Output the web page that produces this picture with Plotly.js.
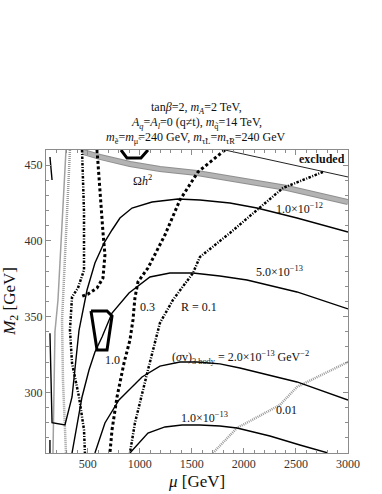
<!DOCTYPE html>
<html>
<head>
<meta charset="utf-8">
<script src="https://cdn.plot.ly/plotly-3.0.1.min.js"></script>
<style>
html, body { margin: 0; padding: 0; background: #fff; }
#plot { width: 382px; height: 494px; }
</style>
</head>
<body>
<div id="plot"></div>
<script>
// (sigma v)_3body contours, mu [GeV] vs M2 [GeV]
var sv1e12Mu = [138, 158, 282, 350, 417, 494, 570, 657, 734, 810, 926, 1118, 1367, 1578, 1866, 2126, 2510, 3000];
var sv1e12M2 = [339, 280, 278.5, 297, 341, 367.6, 385.4, 398.6, 407.2, 415.1, 421.7, 425.7, 427.7, 427, 425, 421.7, 415.1, 405.9];
var sv5e13Mu = [350, 398, 446, 513, 570, 638, 734, 897, 1098, 1290, 1511, 1770, 2030, 2510, 3000];
var sv5e13M2 = [260, 279.8, 297, 314.8, 326.7, 336.6, 352.4, 365.6, 376.2, 378.8, 378.8, 376.8, 374.2, 366.3, 355.1];
var sv2e13Mu = [570, 666, 801, 1022, 1194, 1386, 1550, 1770, 1962, 2250, 2510, 3000];
var sv2e13M2 = [260, 279.8, 295, 310.2, 317.4, 320.1, 320.1, 318.8, 316.1, 311.5, 306.9, 295];
var sv1e13Mu = [906, 1079, 1242, 1406, 1578, 1770, 1934, 2250, 2538, 2807];
var sv1e13M2 = [260, 273.2, 277.2, 278.5, 278.5, 277.8, 276.5, 271.2, 265.3, 260];

// small contour pieces at the left edge
var stubTopMu = [138, 158];
var stubTopM2 = [455.4, 440.2];
var stubLowMu = [138, 138];
var stubLowM2 = [268.6, 260];

// relic density band
var omegaMu = [455, 618, 906, 1194, 1550, 1962, 2414, 3000];
var omegaM2 = [458.7, 455.4, 450.8, 447.5, 444.8, 440.2, 434.9, 425.7];

// excluded boundary
var exclMu = [1818, 3000];
var exclM2 = [460, 442.2];

// R = 1.0 islands
var islandTopMu = [820, 878, 1012, 1079];
var islandTopM2 = [460, 454.7, 454.7, 460];
var islandMidMu = [532, 686, 734, 686, 590, 532];
var islandMidM2 = [353.7, 353.7, 350.4, 328, 328, 353.7];

// R contours
var r03Mu = [1818, 1559, 1386, 1242, 1079, 983, 954, 935, 906, 849, 782, 734, 714];
var r03M2 = [460, 445.5, 427, 403.9, 382.1, 372.9, 362.3, 347.8, 334.6, 319.4, 297, 275.2, 260];
var r01Mu = [2759, 2375, 2126, 1866, 1578, 1511, 1319, 1194, 1079, 954, 906];
var r01M2 = [445.5, 434.9, 420.4, 405.2, 389.4, 378.8, 361, 345.8, 314.8, 279.8, 260];
var rLeftMu = [446, 465, 465, 407, 350, 330, 350, 417, 465, 474];
var rLeftM2 = [460, 419.1, 380.8, 368.9, 363, 341.2, 319.4, 297, 275.2, 260];
var rLoopMu = [590, 618, 647, 666, 647, 590, 503, 426];
var rLoopM2 = [460, 430.3, 405.9, 390.7, 375.5, 368.9, 364.9, 363];
var r001RightMu = [1703, 1934, 2346, 2510, 3000];
var r001RightM2 = [260, 276.5, 291.7, 303.6, 320.1];
var r001LeftMu = [330, 254, 263, 292];
var r001LeftM2 = [460, 347.8, 308, 260];

// gray boundary line at small mu
var edgeMu = [292, 215, 186, 167];
var edgeM2 = [460, 361, 340, 260];

// header lines above the frame
var headerLines = [
	'tan<i>β</i>=2, <i>m<sub>A</sub></i>=2 TeV,',
	'<i>A<sub>q</sub></i>=<i>A<sub>l</sub></i>=0 (q≠t), <i>m</i><sub>q̃</sub>=14 TeV,',
	'<i>m</i><sub>ẽ</sub>=<i>m</i><sub>μ̃</sub>=240 GeV, <i>m</i><sub>τ̃L</sub>=<i>m</i><sub>τ̃R</sub>=240 GeV'
];

function line(x, y, color, width, dash) {
	return {
		x: x, y: y, type: 'scatter', mode: 'lines',
		line: { color: color, width: width, dash: dash || 'solid' },
		hoverinfo: 'skip', showlegend: false
	};
}

var traces = [
	line(omegaMu, omegaM2, '#8f8f8f', 6),
	line(omegaMu, omegaM2, '#b3b3b3', 4),
	line(edgeMu, edgeM2, '#a0a0a0', 1.5),
	line(r001LeftMu, r001LeftM2, '#9a9a9a', 2.5, '1px,1px'),
	line(r001RightMu, r001RightM2, '#9a9a9a', 2.5, '1px,1px'),
	line(exclMu, exclM2, '#222', 1),
	line(sv1e12Mu, sv1e12M2, '#000', 1.4),
	line(stubTopMu, stubTopM2, '#000', 1.4),
	line(stubLowMu, stubLowM2, '#000', 1.4),
	line(sv5e13Mu, sv5e13M2, '#000', 1.4),
	line(sv2e13Mu, sv2e13M2, '#000', 1.4),
	line(sv1e13Mu, sv1e13M2, '#000', 1.4),
	line(islandTopMu, islandTopM2, '#000', 3),
	line(islandMidMu, islandMidM2, '#000', 3),
	line(r03Mu, r03M2, '#000', 3, '3px,2.5px'),
	line(rLoopMu, rLoopM2, '#000', 3, '3px,2.5px'),
	line(r01Mu, r01M2, '#000', 2.5, '2.5px,1.5px,1px,1.5px'),
	line(rLeftMu, rLeftM2, '#000', 2.5, '2.5px,1.5px,1px,1.5px')
];

var serif = 'Liberation Serif, Times New Roman, serif';

function label(x, y, text, size) {
	return { x: x, y: y, xref: 'x', yref: 'y', text: text, showarrow: false,
		font: { family: serif, size: size || 12, color: '#111' } };
}

var annotations = [
	label(2750, 454.1, '<b>excluded</b>'),
	label(1031, 440.2, 'Ω<i>h</i><sup>2</sup>'),
	label(2538, 421.7, '1.0×10<sup>−12</sup>'),
	label(2346, 379.5, '5.0×10<sup>−13</sup>'),
	label(1972, 323, '(<i>σ</i>v)<sub>3 body</sub> = 2.0×10<sup>−13</sup> GeV<sup>−2</sup>'),
	label(1626, 283.5, '1.0×10<sup>−13</sup>'),
	label(2414, 288.4, '0.01'),
	label(1569, 356.4, 'R = 0.1'),
	label(1079, 356.4, '0.3'),
	label(734, 321.4, '1.0')
];

// header: one annotation per line, 15px apart
var headerY = [1.1386, 1.0891, 1.0396];
for (var i = 0; i < headerLines.length; i++) {
	annotations.push({
		x: 0.497, y: headerY[i], xref: 'paper', yref: 'paper',
		xanchor: 'center', yanchor: 'middle', showarrow: false,
		text: headerLines[i],
		font: { family: serif, size: 12, color: '#111' }
	});
}

// axis titles placed by hand
annotations.push({
	x: 0.497, y: -0.093, xref: 'paper', yref: 'paper',
	xanchor: 'center', yanchor: 'middle', showarrow: false,
	text: '<i>μ</i> [GeV]', font: { family: serif, size: 17, color: '#111' }
});
annotations.push({
	x: -0.118, y: 0.5, xref: 'paper', yref: 'paper',
	xanchor: 'center', yanchor: 'middle', showarrow: false, textangle: -90,
	text: '<i>M</i><sub>2</sub> [GeV]', font: { family: serif, size: 17, color: '#111' }
});

var layout = {
	width: 382, height: 494,
	margin: { l: 46, r: 34, t: 150, b: 41 },
	paper_bgcolor: '#fff', plot_bgcolor: '#fff',
	font: { family: serif, size: 12, color: '#333' },
	xaxis: {
		range: [100, 3000], showgrid: false, zeroline: false,
		showline: true, mirror: 'allticks', linecolor: '#8c8c8c', linewidth: 1,
		ticks: 'inside', ticklen: 5, tickcolor: '#8c8c8c',
		tickvals: [500, 1000, 1500, 2000, 2500, 3000],
		minor: { dtick: 100, tick0: 0, ticks: 'inside', ticklen: 3, tickcolor: '#8c8c8c' },
		tickfont: { family: serif, size: 12, color: '#333' }
	},
	yaxis: {
		range: [260, 460], showgrid: false, zeroline: false,
		showline: true, mirror: 'allticks', linecolor: '#8c8c8c', linewidth: 1,
		ticks: 'inside', ticklen: 5, tickcolor: '#8c8c8c',
		tickvals: [300, 350, 400, 450],
		minor: { dtick: 10, tick0: 0, ticks: 'inside', ticklen: 3, tickcolor: '#8c8c8c' },
		tickfont: { family: serif, size: 12, color: '#333' }
	},
	annotations: annotations
};

Plotly.newPlot('plot', traces, layout, { staticPlot: true, displayModeBar: false });
</script>
</body>
</html>
